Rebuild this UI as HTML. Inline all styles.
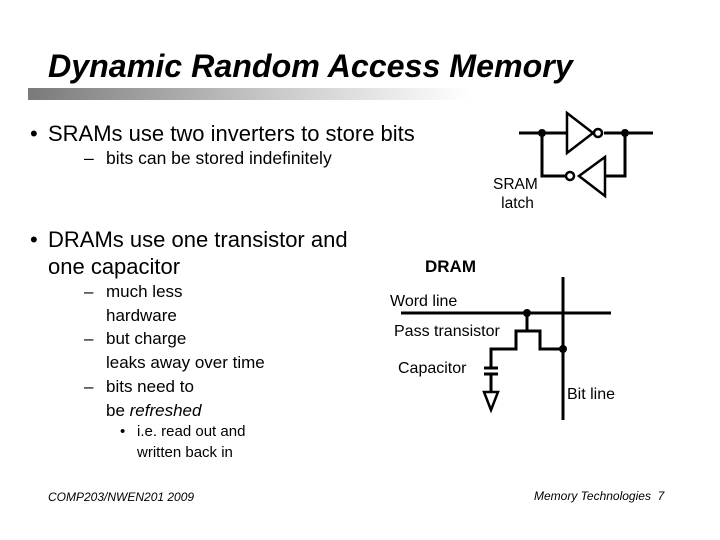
<!DOCTYPE html>
<html><head><meta charset="utf-8"><style>
body{margin:0;width:720px;height:540px;background:#fff;position:relative;overflow:hidden;font-family:"Liberation Sans",sans-serif;color:#000}
.t{position:absolute;white-space:nowrap;line-height:1}
</style></head><body>
<div class="t" style="left:48px;top:50px;font-size:32.2px;font-weight:bold;font-style:italic">Dynamic Random Access Memory</div>
<div style="position:absolute;left:28px;top:88px;width:442px;height:12px;background:linear-gradient(to right,#7a7a7a,#c8c8c8 55%,#fff)"></div>

<div class="t" style="left:30px;top:123px;font-size:22px">•</div>
<div class="t" style="left:48px;top:123px;font-size:22px">SRAMs use two inverters to store bits</div>
<div class="t" style="left:84px;top:150px;font-size:17.5px">–</div>
<div class="t" style="left:106px;top:150px;font-size:17.5px">bits can be stored indefinitely</div>

<div class="t" style="left:30px;top:229px;font-size:22px">•</div>
<div class="t" style="left:48px;top:226px;font-size:22px;line-height:27px">DRAMs use one transistor and<br>one capacitor</div>
<div class="t" style="left:84px;top:280px;font-size:17px;line-height:23.7px">–<br><br>–<br><br>–</div>
<div class="t" style="left:106px;top:280px;font-size:17px;line-height:23.7px">much less<br>hardware<br>but charge<br>leaks away over time<br>bits need to<br>be <i>refreshed</i></div>
<div class="t" style="left:120px;top:421px;font-size:15px;line-height:21px">•</div>
<div class="t" style="left:137px;top:421px;font-size:15px;line-height:21px">i.e. read out and<br>written back in</div>

<div class="t" style="left:48px;top:491px;font-size:12px;font-style:italic">COMP203/NWEN201 2009</div>
<div class="t" style="left:534px;top:490px;font-size:12px;font-style:italic">Memory Technologies&nbsp; 7</div>

<div class="t" style="left:493px;top:175px;font-size:15.5px;text-align:center;line-height:19px">SRAM<br>&nbsp;latch</div>
<div class="t" style="left:425px;top:258px;font-size:17px;font-weight:bold">DRAM</div>
<div class="t" style="left:390px;top:294px;font-size:16px">Word line</div>
<div class="t" style="left:394px;top:324px;font-size:16px">Pass transistor</div>
<div class="t" style="left:398px;top:361px;font-size:16px">Capacitor</div>
<div class="t" style="left:567px;top:387px;font-size:16px">Bit line</div>

<svg width="720" height="540" style="position:absolute;left:0;top:0" fill="none" stroke="#000" stroke-width="3">
<path d="M519 133H567M604 133H653"/>
<path d="M567 113L593 133L567 153Z" stroke-width="2.5"/>
<circle cx="598" cy="133" r="4" fill="#fff" stroke-width="2.5"/>
<path d="M542 133V176H566M605 176H625V133"/>
<path d="M605 157L579 176L605 196Z" stroke-width="2.5"/>
<circle cx="570" cy="176" r="4" fill="#fff" stroke-width="2.5"/>
<circle cx="542" cy="133" r="4" fill="#000" stroke="none"/>
<circle cx="625" cy="133" r="4" fill="#000" stroke="none"/>
<path d="M401 313H611"/>
<path d="M563 277V420"/>
<path d="M527 313V331H516V349H491V368M527 331H540V349H563"/>
<path d="M484 368H498M484 374H498"/>
<path d="M491 374V392"/>
<path d="M484 392H498L491 410Z" stroke-width="2.5"/>
<circle cx="527" cy="313" r="4" fill="#000" stroke="none"/>
<circle cx="563" cy="349" r="4" fill="#000" stroke="none"/>
</svg>
</body></html>
